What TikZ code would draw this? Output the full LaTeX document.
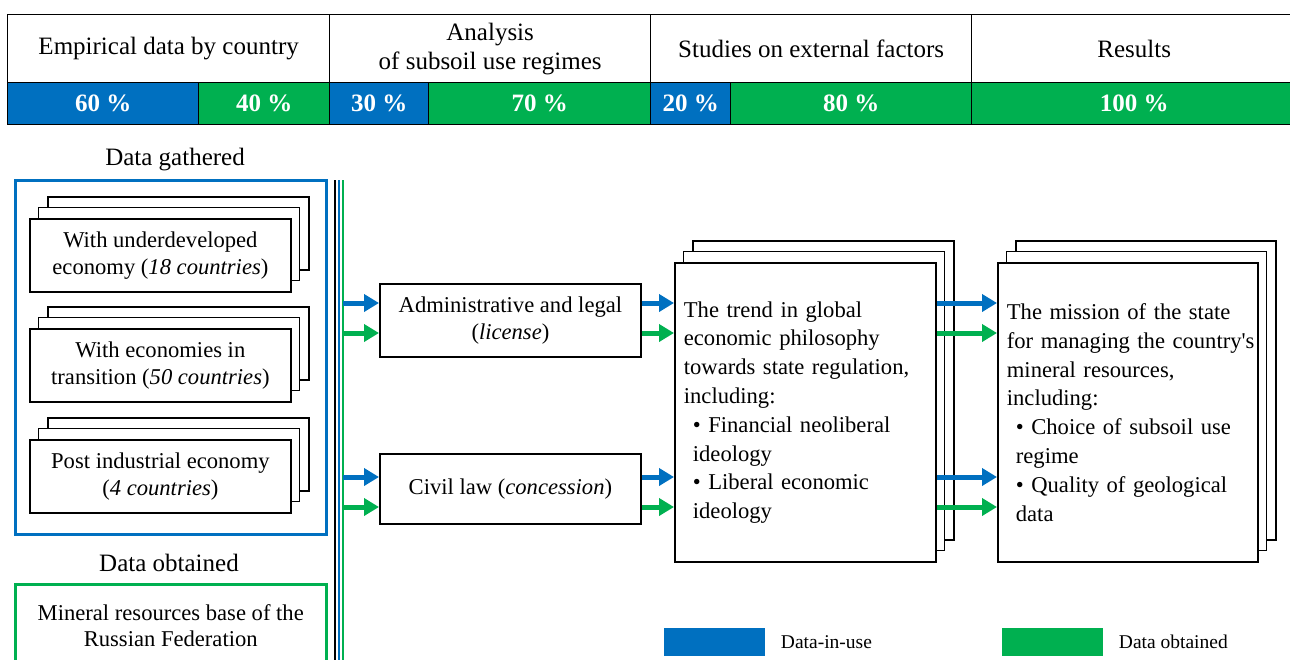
\documentclass[tikz,border=0pt]{standalone}
\usepackage{fontspec}
\setmainfont{Liberation Serif}
\usetikzlibrary{arrows.meta}
\definecolor{cblue}{HTML}{0070C0}
\definecolor{cgreen}{HTML}{00B050}
\newcommand{\backpages}[4]{%
  \draw[page] (#1+19,#2-21) rectangle ++(#3,#4);
  \draw[page] (#1+9.5,#2-10.5) rectangle ++(#3,#4);}
\newcommand{\ind}{\hspace*{9pt}}
\tikzset{
  hcell/.style={draw=black, line width=1.3pt, inner sep=0pt, anchor=north west, align=center, font=\fontsize{25}{29}\selectfont},
  pcell/.style={hcell, text=white, font=\fontsize{25}{29}\selectfont\bfseries},
  page/.style={draw=black, fill=white, line width=1.8pt},
  stackbox/.style={page, anchor=north west, minimum width=261pt, minimum height=73pt, inner sep=0pt, align=center, font=\fontsize{22.6}{27}\selectfont},
  bigbox/.style={page, anchor=north west, text width=243pt, inner xsep=9pt, inner ysep=0pt, minimum height=299pt, align=left, font=\fontsize{22.6}{28.8}\selectfont},
  grouptitle/.style={font=\fontsize{25}{29}\selectfont},
  groupbox/.style={line width=2.5pt, anchor=north west, minimum width=311pt, inner sep=0pt},
  vline/.style={line width=2.5pt},
  barrow/.style={cblue, line width=5pt, -{Triangle[length=15pt,width=17pt]}},
  garrow/.style={cgreen, line width=5pt, -{Triangle[length=15pt,width=17pt]}},
  legbox/.style={anchor=north west, minimum width=101pt, minimum height=28pt, inner sep=0pt},
  legtext/.style={anchor=west, font=\fontsize{19.5}{22}\selectfont},
}
\begin{document}
\begin{tikzpicture}[x=1pt,y=-1pt]
\useasboundingbox (0,0) rectangle (1290,659);
% header table
\node[hcell, minimum width=322, minimum height=68] (h1) at (7,14) {Empirical data by country};
\node[hcell, minimum width=321, minimum height=68] (h2) at (329,14) {Analysis\\of subsoil use regimes};
\node[hcell, minimum width=321, minimum height=68] (h3) at (650,14) {Studies on external factors};
\node[hcell, minimum width=325, minimum height=68] (h4) at (971,14) {Results};
\node[pcell, fill=cblue, minimum width=191, minimum height=42] (p1) at (7,82) {60 \%};
\node[pcell, fill=cgreen, minimum width=131, minimum height=42] (p2) at (198,82) {40 \%};
\node[pcell, fill=cblue, minimum width=99, minimum height=42] (p3) at (329,82) {30 \%};
\node[pcell, fill=cgreen, minimum width=222, minimum height=42] (p4) at (428,82) {70 \%};
\node[pcell, fill=cblue, minimum width=80, minimum height=42] (p5) at (650,82) {20 \%};
\node[pcell, fill=cgreen, minimum width=241, minimum height=42] (p6) at (730,82) {80 \%};
\node[pcell, fill=cgreen, minimum width=325, minimum height=42] (p7) at (971,82) {100 \%};
% left column
\node[grouptitle] (tg) at (175,160) {Data gathered};
\node[groupbox, draw=cblue, minimum height=354pt] (gathered) at (14,179) {};
\backpages{29}{218}{261}{73}
\node[stackbox] (s1) at (29,218) {With underdeveloped\\economy (\textit{18 countries})};
\backpages{29}{328}{261}{73}
\node[stackbox] (s2) at (29,328) {With economies in\\transition (\textit{50 countries})};
\backpages{29}{439}{261}{73}
\node[stackbox] (s3) at (29,439) {Post industrial economy\\(\textit{4 countries})};
\node[grouptitle] (to) at (169,563) {Data obtained};
\node[groupbox, draw=cgreen, minimum height=82pt, align=center, font=\fontsize{22.6}{26}\selectfont] (obtained) at (14,583) {Mineral resources base of the\\Russian Federation};
% vertical lines
\draw[vline, black] (335,180) -- (335,665);
\draw[vline, cblue] (339,180) -- (339,665);
\draw[vline, cgreen] (343,180) -- (343,665);
% regime boxes
\node[stackbox] (adm) at (379,283) {Administrative and legal\\(\textit{license})};
\node[stackbox, minimum height=70pt] (civ) at (379,453) {Civil law (\textit{concession})};
% trend box
\backpages{674}{262}{261}{299}
\node[bigbox] (trend) at (674,262) {The trend in global\\economic philosophy\\towards state regulation,\\including:\\\ind\textbullet\ Financial neoliberal\\\ind ideology\\\ind\textbullet\ Liberal economic\\\ind ideology};
% mission box
\backpages{997}{262}{260}{299}
\node[bigbox, text width=242pt] (mission) at (997,262) {The mission of the state\\\mbox{for managing the country\textquotesingle s}\\mineral resources,\\including:\\\ind\textbullet\ Choice of subsoil use\\\ind regime\\\ind\textbullet\ Quality of geological\\\ind data};
% arrows
\coordinate (a1) at (343,303);
\coordinate (a2) at (343,333);
\coordinate (a3) at (343,477);
\coordinate (a4) at (343,507);
\draw[barrow] (a1) -- (a1 -| adm.west);
\draw[garrow] (a2) -- (a2 -| adm.west);
\draw[barrow] (a3) -- (a3 -| civ.west);
\draw[garrow] (a4) -- (a4 -| civ.west);
\draw[barrow] (adm.east |- a1) -- (a1 -| trend.west);
\draw[garrow] (adm.east |- a2) -- (a2 -| trend.west);
\draw[barrow] (civ.east |- a3) -- (a3 -| trend.west);
\draw[garrow] (civ.east |- a4) -- (a4 -| trend.west);
\draw[barrow] (trend.east |- a1) -- (a1 -| mission.west);
\draw[garrow] (trend.east |- a2) -- (a2 -| mission.west);
\draw[barrow] (trend.east |- a3) -- (a3 -| mission.west);
\draw[garrow] (trend.east |- a4) -- (a4 -| mission.west);
% legend
\node[legbox, fill=cblue] (lb) at (664,628) {};
\node[legtext] (lbt) at ([xshift=12pt]lb.east) {Data-in-use};
\node[legbox, fill=cgreen] (lg) at (1002,628) {};
\node[legtext] (lgt) at ([xshift=12pt]lg.east) {Data obtained};
\end{tikzpicture}
\end{document}
